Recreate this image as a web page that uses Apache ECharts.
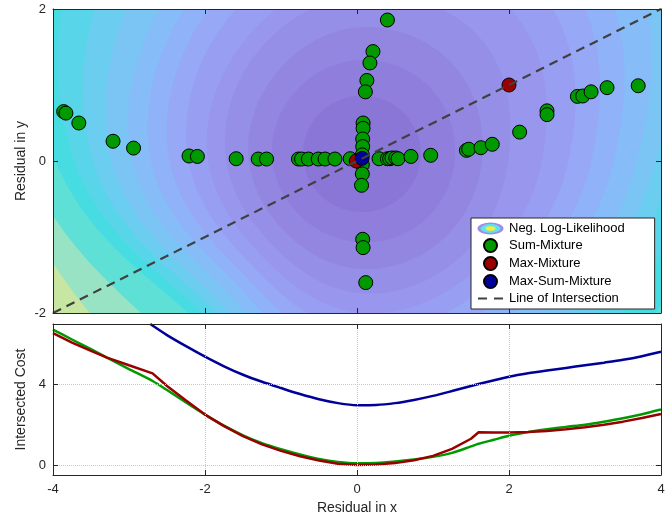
<!DOCTYPE html>
<html><head><meta charset="utf-8">
<script src="https://cdn.jsdelivr.net/npm/echarts@6/dist/echarts.min.js"></script>
<style>html,body{margin:0;padding:0;background:#fff}#c{width:668px;height:519px}</style>
</head><body><div id="c"></div>
<script>
// ---------- scatter data (top panel) ----------
const sumMixX = [-3.86,-3.83,-3.66,-3.21,-2.94,-2.21,-2.10,-1.59,-1.30,-1.19,
  -0.77,-0.73,-0.64,-0.51,-0.42,-0.29,-0.09,0.29,0.40,0.43,0.46,0.51,0.54,0.71,0.97,
  1.44,1.47,1.63,1.78,2.14,2.50,2.50,2.90,2.97,3.08,3.29,3.70,
  0.40,0.21,0.17,0.13,0.11,0.08,0.08,0.075,0.075,0.07,0.07,0.07,0.06,0.075,0.08,0.115];
const sumMixY = [0.65,0.63,0.50,0.26,0.17,0.066,0.06,0.03,0.026,0.026,
  0.026,0.026,0.026,0.026,0.026,0.026,0.03,0.03,0.03,0.03,0.04,0.04,0.03,0.06,0.075,
  0.14,0.155,0.175,0.22,0.38,0.66,0.61,0.85,0.855,0.91,0.965,0.99,
  1.855,1.44,1.29,1.06,0.91,0.50,0.43,0.29,0.19,0.08,-0.05,-0.17,-0.32,-1.03,-1.14,-1.60];
const maxMixX = [2.0, -0.01];
const maxMixY = [1.0, 0.0];
const maxSumMixX = [0.066];
const maxSumMixY = [0.035];
const intersectX = [-4, 4];
const intersectY = [-2, 2];

// ---------- intersected cost (bottom panel) ----------
const costX = [-4,-3.75,-3.5,-3.29,-3,-2.69,-2.5,-2.25,-2,-1.75,-1.5,-1.25,-1,-0.75,-0.5,-0.25,0,
  0.25,0.5,0.75,1,1.25,1.5,1.6,1.8,2,2.25,2.5,2.75,3,3.25,3.5,3.75,4];
const sumCost = [6.72,6.23,5.75,5.33,4.76,4.17,3.72,3.1,2.5,1.95,1.47,1.08,0.78,0.52,0.3,0.15,0.08,
  0.1,0.17,0.27,0.4,0.6,0.92,1.05,1.25,1.45,1.63,1.77,1.89,2.0,2.15,2.32,2.52,2.75];
const maxCost = [6.55,6.08,5.67,5.33,4.95,4.55,3.92,3.2,2.5,1.93,1.43,1.02,0.7,0.43,0.22,0.06,0.0,
  0.02,0.09,0.23,0.45,0.8,1.3,1.62,1.61,1.61,1.64,1.69,1.77,1.87,2.0,2.15,2.33,2.53];
const blueX = [-2.72,-2.5,-2.25,-2,-1.75,-1.5,-1.25,-1,-0.75,-0.5,-0.25,0,0.25,0.5,0.75,1,1.25,1.5,
  1.75,2,2.25,2.5,2.75,3,3.25,3.5,3.75,4];
const maxSumCost = [7.0,6.45,5.9,5.38,4.9,4.48,4.13,3.82,3.52,3.26,3.07,2.97,2.98,3.07,3.23,3.43,3.67,3.92,
  4.16,4.38,4.55,4.69,4.82,4.95,5.08,5.22,5.4,5.62];

// ---------- contour bands of the neg. log-likelihood ----------
// each boundary: distance from the centre in directions E, NE, N, NW, W, SW, S, SE
const ringDirs = [0,45,90,135,180,225,270,315];
const ringCenter = [0.05, 0.08];
const ringB0  = [0.79,0.79,0.78,0.77,0.76,0.75,0.75,0.77];
const ringB1  = [1.24,1.27,1.25,1.2,1.17,1.13,1.15,1.2];
const ringB2  = [1.6,1.7,1.68,1.55,1.48,1.42,1.5,1.55];
const ringB3  = [1.95,2.2,2.1,1.92,1.78,1.66,1.82,1.88];
const ringB4  = [2.4,2.75,2.4,2.15,2.02,1.86,2.08,2.15];
const ringB5  = [2.75,3.2,2.75,2.5,2.28,2.04,2.33,2.4];
const ringB6  = [3.05,3.6,3.15,2.78,2.53,2.2,2.58,2.65];
const ringB7  = [3.35,4.0,3.55,3.06,2.78,2.36,2.83,2.9];
const ringB8  = [3.65,4.5,4.0,3.36,3.03,2.52,3.08,3.15];
const ringB9  = [3.9,5.0,4.5,3.79,3.3,2.68,3.33,3.4];
const ringB10 = [4.15,5.5,5.0,4.25,3.55,2.82,3.6,3.65];
const ringB11 = [4.45,6.0,5.5,4.78,3.8,2.95,3.87,3.95];
const ringB12 = [4.8,6.6,6.0,5.4,4.05,3.08,4.15,4.3];
const ringB13 = [5.2,7.2,6.6,6.0,4.45,3.5,4.45,4.7];
const ringB14 = [5.6,7.8,7.2,6.6,4.75,4.05,4.8,5.1];
const bandColors = ['#8a76d6','#8f7edb','#9386e1','#968fe7','#9897ed','#989ff2','#96a8f6','#8fb2f9',
  '#86bcf8','#7bc5f5','#6bcdf0','#59d5ea','#46dce2','#5fe0d6','#97e3c4','#c7e6a2'];

const ringList = [ringB14,ringB13,ringB12,ringB11,ringB10,ringB9,ringB8,ringB7,ringB6,ringB5,ringB4,ringB3,ringB2,ringB1,ringB0];

const axisColor = '#262626';
const font = '"Liberation Sans", Arial, Helvetica, sans-serif';
const green = '#009a00', red = '#990000', blue = '#000099';

const nllSvg = "<svg xmlns='http://www.w3.org/2000/svg' width='27' height='13'>" +
  "<ellipse cx='13.5' cy='6.5' rx='13' ry='6' fill='#a08ce6'/>" +
  "<ellipse cx='13.5' cy='6.5' rx='10' ry='4.4' fill='#5fe2ee'/>" +
  "<ellipse cx='13.5' cy='6.5' rx='5' ry='2.3' fill='#f2ee3a'/></svg>";
const nllIcon = 'image://data:image/svg+xml;charset=utf-8,' + encodeURIComponent(nllSvg);
const dashIcon = 'path://M0,0L0,0M27,13L27,13M1,5.6L10,5.6L10,7.6L1,7.6ZM17,5.6L26,5.6L26,7.6L17,7.6Z';

function zip(xs, ys){ return xs.map((x,i)=>[x, ys[i]]); }

// periodic Catmull-Rom through the 8 read distances, used only to draw a smooth outline
function ringRadius(d, deg){
  const s = deg/45, i = Math.floor(s), t = s - i;
  const p0 = d[(i+7)%8], p1 = d[i%8], p2 = d[(i+1)%8], p3 = d[(i+2)%8];
  return 0.5*((2*p1) + (-p0+p2)*t + (2*p0-5*p1+4*p2-p3)*t*t + (-p0+3*p1-3*p2+p3)*t*t*t);
}

function xAx(grid, pos, labels, extra){
  return Object.assign({
    type:'value', gridIndex:grid, position:pos, min:-4, max:4, interval:2, z:10,
    axisLine:{show:true, onZero:false, lineStyle:{color:axisColor, width:1}},
    axisTick:{show:true, inside:true, length:5, lineStyle:{color:axisColor}},
    axisLabel:{show:labels, color:axisColor, fontSize:13, fontFamily:font, margin:8},
    splitLine:{show:false}
  }, extra||{});
}

const chart = echarts.init(document.getElementById('c'));
chart.setOption({
  animation:false,
  grid:[
    {left:53, top:9, width:608, height:304, show:true, backgroundColor:bandColors[15], borderWidth:0},
    {left:53, top:324, width:608, height:151, show:false}
  ],
  xAxis:[
    xAx(0,'bottom',false),
    xAx(0,'top',false),
    xAx(1,'bottom',true,{name:'Residual in x', nameLocation:'middle', nameGap:26,
      nameTextStyle:{fontSize:14, fontFamily:font, color:axisColor},
      splitLine:{show:true, lineStyle:{type:'dotted', color:'#c8c8c8', width:1}}}),
    xAx(1,'top',false)
  ],
  yAxis:[
    {type:'value', gridIndex:0, position:'left', min:-2, max:2, interval:2, z:10,
      name:'Residual in y', nameLocation:'middle', nameGap:25, nameMoveOverlap:false,
      nameTextStyle:{fontSize:14, fontFamily:font, color:axisColor},
      axisLine:{show:true, onZero:false, lineStyle:{color:axisColor}},
      axisTick:{show:true, inside:true, length:5, lineStyle:{color:axisColor}},
      axisLabel:{color:axisColor, fontSize:13, fontFamily:font, margin:7},
      splitLine:{show:false}},
    {type:'value', gridIndex:0, position:'right', min:-2, max:2, interval:2, z:10,
      axisLine:{show:true, onZero:false, lineStyle:{color:axisColor}},
      axisTick:{show:true, inside:true, length:5, lineStyle:{color:axisColor}},
      axisLabel:{show:false}, splitLine:{show:false}},
    {type:'value', gridIndex:1, position:'left', min:-0.5, max:7, z:10,
      name:'Intersected Cost', nameLocation:'middle', nameGap:25, nameMoveOverlap:false,
      nameTextStyle:{fontSize:14, fontFamily:font, color:axisColor},
      axisLine:{show:true, onZero:false, lineStyle:{color:axisColor}},
      axisTick:{show:true, inside:true, length:5, customValues:[0,4], lineStyle:{color:axisColor}},
      axisLabel:{color:axisColor, fontSize:13, fontFamily:font, margin:7, customValues:[0,4]},
      splitLine:{show:true, lineStyle:{type:'dotted', color:'#c8c8c8', width:1}}},
    {type:'value', gridIndex:1, position:'right', min:-0.5, max:7, z:10,
      axisLine:{show:true, onZero:false, lineStyle:{color:axisColor}},
      axisTick:{show:true, inside:true, length:5, customValues:[0,4], lineStyle:{color:axisColor}},
      axisLabel:{show:false}, splitLine:{show:false}}
  ],
  legend:{
    orient:'vertical', left:471, top:218, padding:[4,30,4,6], itemGap:3,
    itemWidth:27, itemHeight:13, backgroundColor:'#fff', borderColor:axisColor, borderWidth:1,
    borderRadius:0, selectedMode:false, z:20,
    textStyle:{fontSize:13, fontFamily:font, color:'#000', lineHeight:13},
    data:[{name:'Neg. Log-Likelihood', icon:nllIcon},
          {name:'Sum-Mixture', icon:'circle'},
          {name:'Max-Mixture', icon:'circle'},
          {name:'Max-Sum-Mixture', icon:'circle'},
          {name:'Line of Intersection', icon:dashIcon}]
  },
  series:[
    {type:'custom', name:'Neg. Log-Likelihood', xAxisIndex:0, yAxisIndex:0, clip:true, silent:true, z:1,
      itemStyle:{color:'#9a96ee'},
      data: ringList.map(()=>[0,0]),
      renderItem:function(params, api){
        const d = ringList[params.dataIndex];
        const pts = [];
        for (let a = 0; a < 360; a += 3) {
          const r = ringRadius(d, a), rad = a*Math.PI/180;
          pts.push(api.coord([ringCenter[0]+r*Math.cos(rad), ringCenter[1]+r*Math.sin(rad)]));
        }
        return {type:'polygon', shape:{points:pts},
          style:{fill:bandColors[ringList.length-1-params.dataIndex]}};
      }},
    {type:'scatter', name:'Sum-Mixture', xAxisIndex:0, yAxisIndex:0, z:3, symbolSize:14,
      itemStyle:{color:green, borderColor:'#000', borderWidth:1, opacity:1},
      data: zip(sumMixX, sumMixY)},
    {type:'scatter', name:'Max-Mixture', xAxisIndex:0, yAxisIndex:0, z:4, symbolSize:14,
      itemStyle:{color:red, borderColor:'#000', borderWidth:1, opacity:1},
      data: zip(maxMixX, maxMixY)},
    {type:'scatter', name:'Max-Sum-Mixture', xAxisIndex:0, yAxisIndex:0, z:5, symbolSize:14,
      itemStyle:{color:blue, borderColor:'#000', borderWidth:1, opacity:1},
      data: zip(maxSumMixX, maxSumMixY)},
    {type:'line', name:'Line of Intersection', xAxisIndex:0, yAxisIndex:0, z:6, symbol:'none',
      lineStyle:{color:'#404040', width:2.2, type:[9,6]}, itemStyle:{color:'#404040'},
      data: zip(intersectX, intersectY)},
    {type:'line', name:'Sum-Mixture cost', xAxisIndex:2, yAxisIndex:2, symbol:'none', clip:true, z:3,
      smooth:0.25, lineStyle:{color:green, width:2.5}, itemStyle:{color:green}, data: zip(costX, sumCost)},
    {type:'line', name:'Max-Mixture cost', xAxisIndex:2, yAxisIndex:2, symbol:'none', clip:true, z:4,
      lineStyle:{color:red, width:2.5}, itemStyle:{color:red}, data: zip(costX, maxCost)},
    {type:'line', name:'Max-Sum-Mixture cost', xAxisIndex:2, yAxisIndex:2, symbol:'none', clip:true, z:4,
      smooth:0.25, lineStyle:{color:blue, width:2.5}, itemStyle:{color:blue}, data: zip(blueX, maxSumCost)}
  ]
});
</script></body></html>
